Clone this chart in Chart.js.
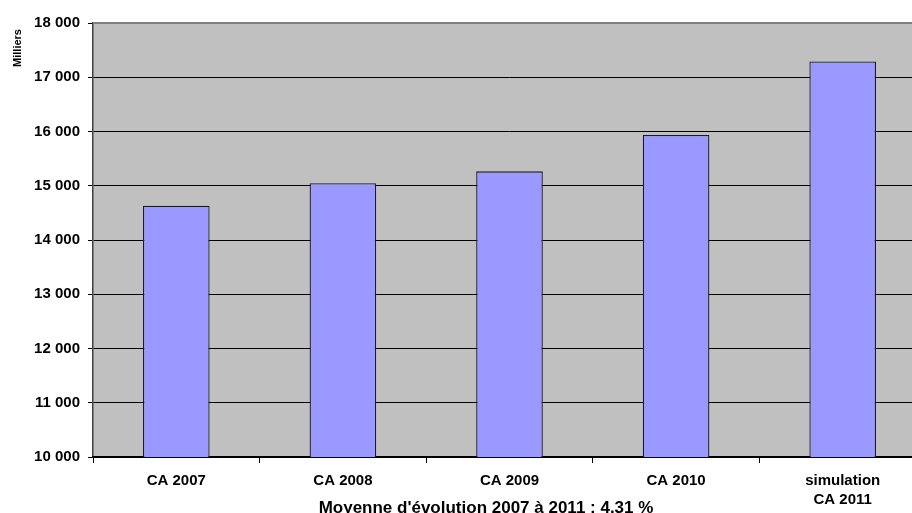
<!DOCTYPE html>
<html>
<head>
<meta charset="utf-8">
<script src="https://cdn.jsdelivr.net/npm/chart.js@4/dist/chart.umd.min.js"></script>
<style>
  html, body { margin: 0; padding: 0; background: #fff; overflow: hidden; }
  #wrap { width: 930px; height: 513px; position: relative; }
</style>
</head>
<body>
<div id="wrap"><canvas id="myChart"></canvas></div>
<script>
// donnees
const categories = ['CA 2007', 'CA 2008', 'CA 2009', 'CA 2010', ['simulation', 'CA 2011']];
const valeurs = [14630, 15045, 15265, 15935, 17290];
const yMin = 10000;
const yMax = 18000;
const yStep = 1000;
const titreX = "Moyenne d'évolution 2007 à 2011 : 4.31 %";
const titreY = 'Milliers';

const police = 'Liberation Sans, Arial, sans-serif';

// fond gris de la zone de tracé, bordure du haut et titres
const fondPlot = {
    id: 'fondPlot',
    beforeDraw(chart) {
        const a = chart.chartArea;
        const c = chart.ctx;
        c.save();
        c.fillStyle = '#C0C0C0';
        c.fillRect(a.left, a.top, a.right - a.left, a.bottom - a.top);
        c.restore();
    },
    afterDraw(chart) {
        const a = chart.chartArea;
        const c = chart.ctx;
        c.save();
        c.strokeStyle = '#808080';
        c.lineWidth = 2;
        c.beginPath();
        c.moveTo(a.left, a.top);
        c.lineTo(a.right, a.top);
        c.stroke();

        // titre de l'axe x (centre comme dans excel, un peu a gauche)
        c.fillStyle = '#000';
        c.font = 'bold 17px ' + police;
        c.textAlign = 'center';
        c.textBaseline = 'alphabetic';
        c.fillText(titreX, 486, 513);

        // titre de l'axe y en haut a gauche
        c.translate(18, 48);
        c.rotate(-Math.PI / 2);
        c.font = 'bold 11px ' + police;
        c.textBaseline = 'middle';
        c.fillText(titreY, 0, 0);
        c.restore();
    }
};

function milliers(v) {
    return String(v).replace(/\B(?=(\d{3})+(?!\d))/g, ' ');
}

const ctx = document.getElementById('myChart');
let chart1 = new Chart(ctx, {
    type: 'bar',
    data: {
        labels: categories,
        datasets: [{
            data: valeurs,
            backgroundColor: '#9999FF',
            borderColor: '#1a1a2e',
            borderWidth: 1.3,
            barPercentage: 0.8,
            categoryPercentage: 0.5
        }]
    },
    plugins: [fondPlot],
    options: {
        responsive: true,
        maintainAspectRatio: false,
        animation: false,
        layout: { padding: { top: 23, right: 4, left: 0, bottom: 0 } },
        plugins: {
            legend: { display: false },
            tooltip: { enabled: false }
        },
        scales: {
            y: {
                min: yMin,
                max: yMax,
                ticks: {
                    stepSize: yStep,
                    color: '#000',
                    font: { family: police, size: 15, weight: 'bold' },
                    padding: 8,
                    callback: v => milliers(v)
                },
                grid: {
                    color: '#000',
                    lineWidth: 1,
                    tickLength: 5,
                    tickColor: '#000'
                },
                border: { color: '#404040', width: 1.5 },
                afterFit(scale) { scale.width = 93; }
            },
            x: {
                ticks: {
                    color: '#000',
                    font: { family: police, size: 15, weight: 'bold', lineHeight: 1.27 },
                    padding: 8,
                    maxRotation: 0
                },
                grid: {
                    drawOnChartArea: false,
                    tickLength: 6,
                    tickColor: '#000',
                    offset: true
                },
                border: { color: '#000', width: 1.5 },
                afterFit(scale) { scale.height = 56; }
            }
        }
    }
});
</script>
</body>
</html>
